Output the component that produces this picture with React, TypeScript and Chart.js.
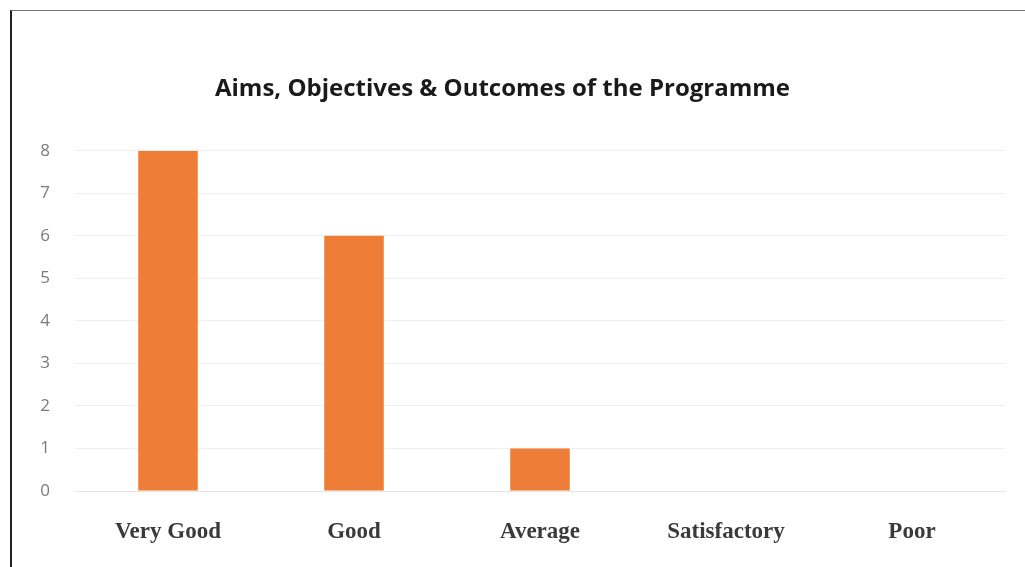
import React, { useEffect, useRef } from "react";
import { Chart, registerables } from "chart.js";

Chart.register(...registerables);

const categories = ["Very Good", "Good", "Average", "Satisfactory", "Poor"];
const counts = [8, 6, 1, 0, 0];
const yTicks = [0, 1, 2, 3, 4, 5, 6, 7, 8];
const titleText = "Aims, Objectives & Outcomes of the Programme";

export default function App() {
  const ref = useRef<HTMLCanvasElement | null>(null);

  useEffect(() => {
    if (!ref.current) return;
    const chart = new Chart(ref.current, {
      type: "bar",
      data: {
        labels: categories,
        datasets: [
          {
            data: counts,
            backgroundColor: "#EE7D38",
            borderWidth: 0,
            categoryPercentage: 1,
            barPercentage: 0.32,
          },
        ],
      },
      options: {
        animation: false,
        responsive: false,
        maintainAspectRatio: false,
        layout: { padding: { left: 0, right: 20, top: 0, bottom: 0 } },
        plugins: {
          legend: { display: false },
          tooltip: { enabled: false },
          title: {
            display: true,
            text: titleText,
            color: "#1a1a1a",
            font: { family: "'Open Sans', sans-serif", size: 24, weight: "bold" },
            padding: { top: 75, bottom: 47 },
          },
        },
        scales: {
          x: {
            grid: { display: false, drawTicks: false },
            border: { display: true, color: "#e4e4e4", width: 1 },
            ticks: {
              color: "#3a3a3a",
              padding: 27,
              font: { family: "'Liberation Serif', serif", size: 23, weight: "bold" },
            },
            afterFit: (scale: any) => {
              scale.height = 76;
            },
          },
          y: {
            min: 0,
            max: 8,
            afterBuildTicks: (scale: any) => {
              scale.ticks = yTicks.map((v) => ({ value: v }));
            },
            grid: { color: "#efefef", drawTicks: false },
            border: { display: false },
            ticks: {
              color: "#7a7a7a",
              padding: 25,
              font: { family: "'Open Sans', sans-serif", size: 17 },
            },
            afterFit: (scale: any) => {
              scale.width = 75;
            },
          },
        },
      },
    });
    return () => chart.destroy();
  }, []);

  return (
    <div style={{ position: "fixed", left: 0, top: 0, width: 1025, height: 567, background: "#fff" }}>
      <div
        style={{
          position: "absolute",
          left: 10,
          top: 10,
          right: 0,
          bottom: 0,
          borderLeft: "2px solid #222",
          borderTop: "1px solid #777",
        }}
      />
      <canvas ref={ref} width={1025} height={567} style={{ position: "absolute", left: 0, top: 0 }} />
    </div>
  );
}
